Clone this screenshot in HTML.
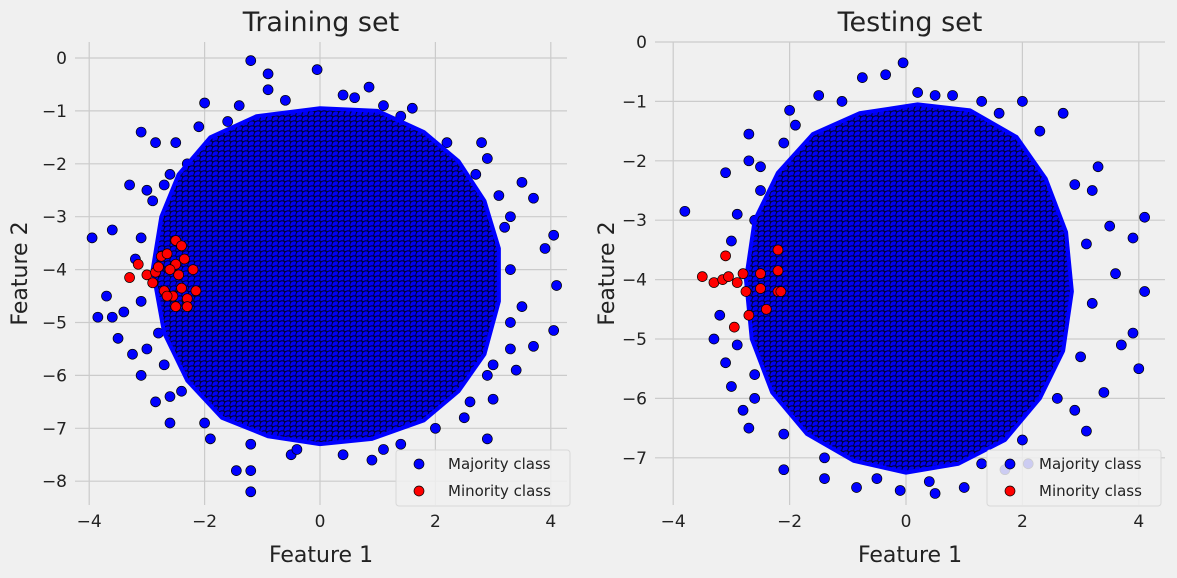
<!DOCTYPE html>
<html><head><meta charset="utf-8"><style>
body{margin:0;background:#f0f0f0;font-family:"Liberation Sans","DejaVu Sans",sans-serif;overflow:hidden}
svg{display:block}
svg text{font-family:"DejaVu Sans","Liberation Sans",sans-serif}
</style></head><body>
<svg id="c" width="1177" height="578" xmlns="http://www.w3.org/2000/svg">
<defs>
<pattern id="dots" width="6" height="5" patternUnits="userSpaceOnUse">
<rect width="6" height="5" fill="#00007a"/>
<circle cx="3" cy="2.5" r="4.2" fill="#0000f5" stroke="#000" stroke-width="0.8"/>
<circle cx="0" cy="0" r="4.2" fill="#0000f5" stroke="#000" stroke-width="0.8"/>
<circle cx="6" cy="0" r="4.2" fill="#0000f5" stroke="#000" stroke-width="0.8"/>
<circle cx="0" cy="5" r="4.2" fill="#0000f5" stroke="#000" stroke-width="0.8"/>
<circle cx="6" cy="5" r="4.2" fill="#0000f5" stroke="#000" stroke-width="0.8"/>
</pattern>
</defs>
</svg>
<script>
const trainXTicks=[-4,-2,0,2,4];
const trainYTicks=[0,-1,-2,-3,-4,-5,-6,-7,-8];
const testXTicks=[-4,-2,0,2,4];
const testYTicks=[0,-1,-2,-3,-4,-5,-6,-7];
const trainCore=[[-2.9,-4],[-2.75,-3.0],[-2.45,-2.2],[-1.9,-1.5],[-1.1,-1.1],[0,-0.95],[1.0,-1.0],[1.8,-1.4],[2.4,-1.95],[2.85,-2.7],[3.1,-3.6],[3.1,-4.6],[2.85,-5.6],[2.4,-6.3],[1.8,-6.85],[0.9,-7.2],[0,-7.3],[-0.9,-7.15],[-1.7,-6.8],[-2.3,-6.1],[-2.7,-5.2]];
const trainMajority=[[-1.2,-0.05],[-0.05,-0.22],[-0.9,-0.3],[-2.0,-0.85],[-3.1,-1.4],[-2.85,-1.6],[-3.3,-2.4],[-3.6,-3.25],[-3.95,-3.4],[-3.85,-4.9],[-3.6,-4.9],[-3.5,-5.3],[-3.7,-4.5],[-3.4,-4.8],[-3.25,-5.6],[-3.1,-6.0],[-2.85,-6.5],[-2.6,-6.9],[-1.9,-7.2],[-1.45,-7.8],[-1.2,-7.8],[-1.2,-8.2],[-0.5,-7.5],[0.9,-7.6],[1.1,-7.4],[2.9,-7.2],[2.5,-6.8],[3.0,-6.45],[3.4,-5.9],[3.7,-5.45],[4.05,-5.15],[4.1,-4.3],[3.9,-3.6],[4.05,-3.35],[3.7,-2.65],[3.5,-2.35],[2.9,-1.9],[2.8,-1.6],[1.6,-0.95],[1.1,-0.9],[0.85,-0.55],[0.4,-0.7],[-1.4,-0.9],[-0.9,-0.6],[-2.5,-1.6],[-2.3,-2.0],[3.3,-3.0],[3.5,-4.7],[3.3,-5.5],[-3.0,-2.5],[-3.2,-3.8],[-2.6,-2.2],[-2.7,-5.8],[-2.4,-6.3],[2.9,-6.0],[3.1,-2.6],[-2.6,-3.1],[-2.8,-5.2],[-2.1,-1.3],[-1.6,-1.2],[-0.6,-0.8],[0.6,-0.75],[1.4,-1.1],[2.2,-1.6],[2.7,-2.2],[3.2,-3.2],[3.3,-4.0],[3.3,-5.0],[3.0,-5.8],[2.6,-6.5],[2.0,-7.0],[1.4,-7.3],[0.4,-7.5],[-0.4,-7.4],[-1.2,-7.3],[-2.0,-6.9],[-2.6,-6.4],[-3.0,-5.5],[-3.1,-4.6],[-3.1,-3.4],[-2.9,-2.7],[-2.7,-2.4]];
const trainMinority=[[-3.3,-4.15],[-3.15,-3.9],[-3.0,-4.1],[-2.85,-4.05],[-2.75,-3.75],[-2.65,-3.7],[-2.5,-3.45],[-2.4,-3.55],[-2.35,-3.8],[-2.5,-3.9],[-2.6,-4.0],[-2.45,-4.1],[-2.2,-4.0],[-2.7,-4.4],[-2.55,-4.5],[-2.4,-4.35],[-2.3,-4.55],[-2.3,-4.7],[-2.5,-4.7],[-2.15,-4.4],[-2.8,-3.95],[-2.9,-4.25],[-2.65,-4.5]];
const testCore=[[-2.75,-4],[-2.6,-3.0],[-2.2,-2.2],[-1.6,-1.55],[-0.8,-1.2],[0.2,-1.05],[1.1,-1.15],[1.9,-1.6],[2.4,-2.3],[2.75,-3.2],[2.85,-4.2],[2.7,-5.2],[2.3,-6.0],[1.7,-6.7],[0.9,-7.1],[0,-7.25],[-0.9,-7.05],[-1.7,-6.6],[-2.3,-5.9],[-2.65,-5.0]];
const testMajority=[[-3.8,-2.85],[-3.1,-2.2],[-3.0,-3.35],[-3.2,-4.6],[-3.3,-5.0],[-3.1,-5.4],[-3.0,-5.8],[-2.8,-6.2],[-2.7,-6.5],[-2.1,-7.2],[-1.4,-7.35],[-0.85,-7.5],[-0.1,-7.55],[0.5,-7.6],[1.0,-7.5],[1.7,-7.2],[2.1,-7.1],[3.1,-6.55],[4.0,-5.5],[3.7,-5.1],[4.1,-4.2],[4.1,-2.95],[3.9,-3.3],[3.5,-3.1],[3.3,-2.1],[2.7,-1.2],[2.0,-1.0],[1.6,-1.2],[0.5,-0.9],[0.8,-0.9],[-0.35,-0.55],[-0.75,-0.6],[-0.05,-0.35],[-1.5,-0.9],[-2.0,-1.15],[-2.7,-1.55],[-2.1,-1.7],[-2.7,-2.0],[3.6,-3.9],[3.9,-4.9],[3.4,-5.9],[-2.6,-5.6],[-2.5,-2.5],[2.9,-6.2],[3.2,-2.5],[-2.6,-3.0],[-1.9,-1.4],[-1.1,-1.0],[0.2,-0.85],[1.3,-1.0],[2.3,-1.5],[2.9,-2.4],[3.1,-3.4],[3.2,-4.4],[3.0,-5.3],[2.6,-6.0],[2.0,-6.7],[1.3,-7.1],[0.4,-7.4],[-0.5,-7.35],[-1.4,-7.0],[-2.1,-6.6],[-2.6,-6.0],[-2.9,-5.1],[-2.9,-2.9],[-2.5,-2.1]];
const testMinority=[[-3.5,-3.95],[-3.3,-4.05],[-3.15,-4.0],[-3.1,-3.6],[-3.05,-3.95],[-2.9,-4.05],[-2.8,-3.9],[-2.75,-4.2],[-2.7,-4.6],[-2.95,-4.8],[-2.5,-3.9],[-2.5,-4.15],[-2.2,-3.5],[-2.2,-3.85],[-2.2,-4.2],[-2.15,-4.2],[-2.4,-4.5]];

const svg=document.getElementById('c');
const NS='http://www.w3.org/2000/svg';
function mk(tag,attrs,parent){const e=document.createElementNS(NS,tag);for(const k in attrs)e.setAttribute(k,attrs[k]);(parent||svg).appendChild(e);return e;}

function panel(cfg){
  const g=mk('g',{});
  
  
  const sx=v=>cfg.x0+v*cfg.kx, sy=v=>cfg.y0-v*cfg.ky;
  cfg.xticks.forEach(t=>{
    const l=mk('line',{x1:sx(t),x2:sx(t),y1:cfg.top,y2:cfg.bot,stroke:'#cbcbcb','stroke-width':1.2},g);
    
    
    const tx=mk('text',{x:sx(t),y:cfg.bot+22,'text-anchor':'middle','font-size':17,fill:'#222'},g);
    tx.textContent=t<0?'\u2212'+Math.abs(t):t;
    
    
  });
  cfg.yticks.forEach(t=>{
    const l=mk('line',{x1:cfg.left,x2:cfg.right,y1:sy(t),y2:sy(t),stroke:'#cbcbcb','stroke-width':1.2},g);
    
    
    const tx=mk('text',{x:cfg.left-8,y:sy(t)+6,'text-anchor':'end','font-size':17,fill:'#222'},g);
    tx.textContent=t<0?'\u2212'+Math.abs(t):t;
    
    
  });
  cfg.maj.forEach(p=>{
    const c=mk('circle',{cx:sx(p[0]),cy:sy(p[1]),r:5,fill:'#0000ff',stroke:'#000','stroke-width':0.7},g);
    
    
  });
  const core=mk('polygon',{points:cfg.core.map(p=>sx(p[0])+','+sy(p[1])).join(' '),fill:'url(#dots)',stroke:'#0000ff','stroke-width':4,'stroke-linejoin':'round'},g);
  
  
  cfg.min.forEach(p=>{
    const c=mk('circle',{cx:sx(p[0]),cy:sy(p[1]),r:5,fill:'#ff0000',stroke:'#000','stroke-width':0.7},g);
    
    
  });
  const t=mk('text',{x:(cfg.left+cfg.right)/2,y:31,'text-anchor':'middle','font-size':27,fill:'#222'},g);
  t.textContent=cfg.title;
  
  
  const xl=mk('text',{x:(cfg.left+cfg.right)/2,y:562,'text-anchor':'middle','font-size':22,fill:'#222'},g);
  xl.textContent='Feature 1';
  
  
  const yl=mk('text',{x:0,y:0,'text-anchor':'middle','font-size':22,fill:'#222',transform:`translate(${cfg.ylx},${(cfg.top+cfg.bot)/2}) rotate(-90)`},g);
  yl.textContent='Feature 2';
  
  
  const lg=mk('g',{},g);
  
  
  mk('rect',{x:cfg.lgx,y:450,width:174,height:56,rx:3,fill:'#f0f0f0',stroke:'#d8d8d8','fill-opacity':0.85},lg);
  [['Majority class','#0000ff',464],['Minority class','#ff0000',491]].forEach(e=>{
    const c=mk('circle',{cx:cfg.lgx+23,cy:e[2],r:5,fill:e[1],stroke:'#000','stroke-width':0.7},lg);
    
    
    const tx=mk('text',{x:cfg.lgx+52,y:e[2]+5,'font-size':15,fill:'#222'},lg);
    tx.textContent=e[0];
    
    
  });
}
panel({name:'training-panel',title:'Training set',x0:320,kx:57.7,y0:58,ky:52.9,left:75,right:567,top:42,bot:505,xticks:trainXTicks,yticks:trainYTicks,core:trainCore,maj:trainMajority,min:trainMinority,ylx:27,lgx:396});
panel({name:'testing-panel',title:'Testing set',x0:906,kx:58.2,y0:42,ky:59.4,left:655,right:1165,top:42,bot:505,xticks:testXTicks,yticks:testYTicks,core:testCore,maj:testMajority,min:testMinority,ylx:614,lgx:987});
</script>
</body></html>
